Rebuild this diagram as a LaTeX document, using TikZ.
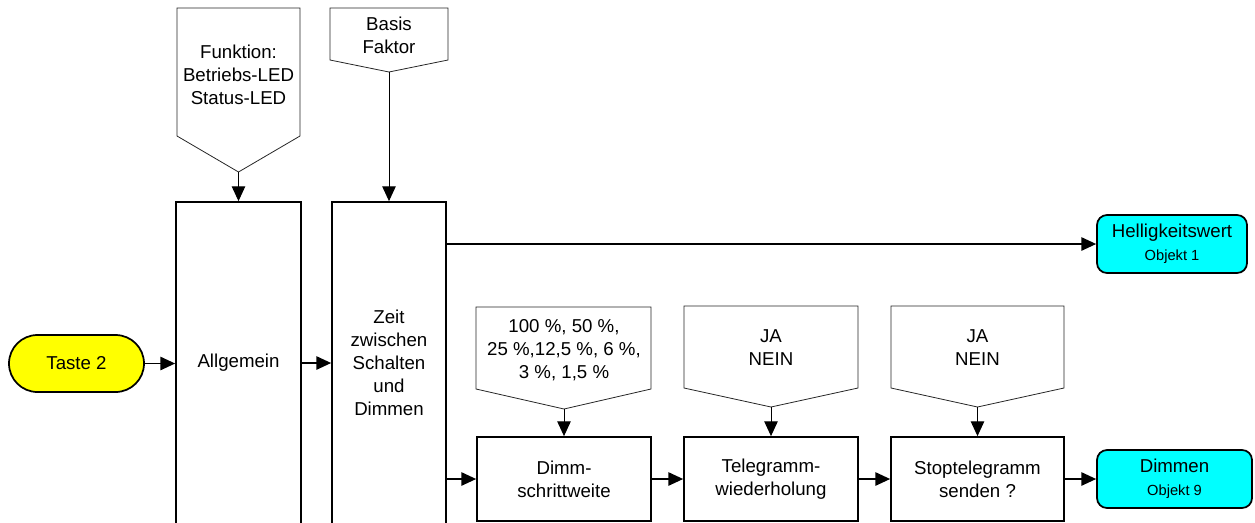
\documentclass[tikz,border=0pt]{standalone}
\usepackage{fontspec}
\setmainfont{Liberation Sans}
\usetikzlibrary{arrows.meta,shapes.misc}
\definecolor{tasteyellow}{RGB}{255,255,0}
\definecolor{objcyan}{RGB}{0,255,255}
\begin{document}
\begin{tikzpicture}[x=0.75pt,y=-0.75pt,
  mainfont/.style={font=\fontsize{14}{17.3}\selectfont},
  box/.style={draw, line width=1.3pt, align=center, inner sep=0pt, mainfont},
  penta/.style={draw=black!85, line width=0.6pt},
  ptext/.style={align=center, inner sep=0pt, mainfont},
  objbox/.style={draw, line width=1.3pt, fill=objcyan, rounded corners=7.5pt, align=center, inner sep=0pt, mainfont, minimum height=43.5pt},
  barrow/.style={line width=1pt, -{Triangle[length=11pt,width=10pt]}},
  parrow/.style={line width=0.75pt, -{Triangle[length=11pt,width=10pt]}}
]
\useasboundingbox (0,0) rectangle (1255,522);

% main boxes
\node[draw, line width=1.3pt, fill=tasteyellow, rounded rectangle, minimum width=101.25pt, minimum height=42.75pt, inner sep=0pt, mainfont] (taste) at (76.5,363.5) {Taste 2};
\node[box, minimum width=93.75pt, minimum height=241.5pt] (allg) at (238.5,363) {Allgemein};
\node[box, minimum width=85.5pt, minimum height=241.5pt] (zeit) at (389,363) {Zeit\\zwischen\\Schalten\\und\\Dimmen};
\node[box, minimum width=130.5pt, minimum height=63pt] (dimm) at (564,479) {Dimm-\\schrittweite};
\node[box, minimum width=130.5pt, minimum height=63pt] (tele) at (771,479) {Telegramm-\\wiederholung};
\node[box, minimum width=129.75pt, minimum height=63pt] (stop) at (977.5,479) {Stoptelegramm\\senden ?};
\node[objbox, minimum width=112.5pt] (hell) at (1172,244) {Helligkeitswert\\{\fontsize{11}{12}\selectfont Objekt 1}};
\node[objbox, minimum width=116.25pt] (dimmen) at (1174.5,479) {Dimmen\\{\fontsize{11}{12}\selectfont Objekt 9}};

% parameter pentagons
\draw[penta] (177,8) -- (300,8) -- (300,136) -- (238.5,172) -- (177,136) -- cycle;
\coordinate (a1) at (238.5,172);
\node[ptext] (t1) at (238.5,75) {Funktion:\\Betriebs-LED\\Status-LED};

\draw[penta] (330,8) -- (448,8) -- (448,60) -- (389,72) -- (330,60) -- cycle;
\coordinate (a2) at (389,72);
\node[ptext] (t2) at (389,35) {Basis\\Faktor};

\draw[penta] (476,307) -- (651,307) -- (651,389) -- (564,409) -- (476,389) -- cycle;
\coordinate (a3) at (564,409);
\node[ptext] (t3) at (564,350) {100 \%, 50 \%,\\25 \%,12,5 \%, 6 \%,\\3 \%, 1,5 \%};

\draw[penta] (684,306) -- (858,306) -- (858,388) -- (771,407) -- (684,388) -- cycle;
\coordinate (a4) at (771,407);
\node[ptext] (t4) at (771,348) {JA\\NEIN};

\draw[penta] (891,306) -- (1064,306) -- (1064,388) -- (977.5,407) -- (891,388) -- cycle;
\coordinate (a5) at (977.5,407);
\node[ptext] (t5) at (977.5,348) {JA\\NEIN};

% connectors
\draw[parrow] (a1) -- (allg.north);
\draw[parrow] (a2) -- (zeit.north);
\draw[parrow] (a3) -- (dimm.north);
\draw[parrow] (a4) -- (tele.north);
\draw[parrow] (a5) -- (stop.north);

\draw[barrow] (taste.east) -- (taste.east -| allg.west);
\draw[barrow] (allg.east) -- (zeit.west);
\draw[barrow] (zeit.east |- hell.west) -- (hell.west);
\draw[barrow] (zeit.east |- dimm.west) -- (dimm.west);
\draw[barrow] (dimm.east) -- (tele.west);
\draw[barrow] (tele.east) -- (stop.west);
\draw[barrow] (stop.east) -- (dimmen.west);
\end{tikzpicture}
\end{document}
